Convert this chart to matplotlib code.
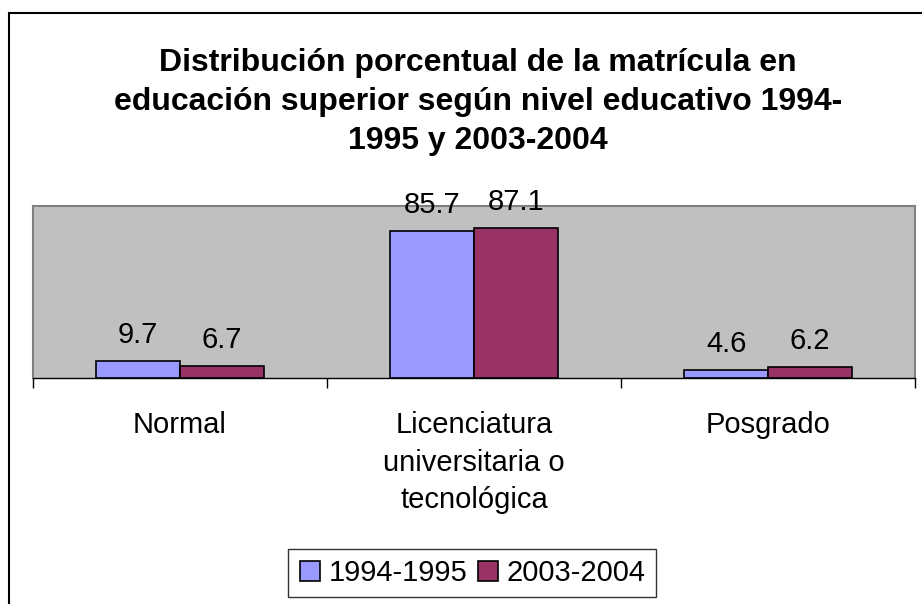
import matplotlib.pyplot as plt
import matplotlib.patches as mpatches
from matplotlib.lines import Line2D
import numpy as np

plt.rcParams['font.family'] = ['Liberation Sans', 'DejaVu Sans']

categorias = ["Normal", "Licenciatura\nuniversitaria o\ntecnológica", "Posgrado"]
series = ["1994-1995", "2003-2004"]
valores_1994 = [9.7, 85.7, 4.6]
valores_2003 = [6.7, 87.1, 6.2]
colores = ["#9999FF", "#993366"]

W, H = 922, 604
fig = plt.figure(figsize=(W / 100, H / 100), dpi=100)

# chart area border (left and top edges visible)
fig.patches.append(mpatches.Rectangle((9 / W, -0.1), 1.2, 1 - 13 / H + 0.1,
                                      transform=fig.transFigure, fill=False,
                                      edgecolor="black", lw=1.5))

ax = fig.add_axes([33 / W, 1 - 378 / H, (915 - 33) / W, (378 - 206) / H])
ax.set_facecolor("#C0C0C0")

x = np.arange(len(categorias))
ancho = 0.285
for i, (vals, col) in enumerate(zip([valores_1994, valores_2003], colores)):
    pos = x + (i - 0.5) * ancho
    ax.bar(pos, vals, width=ancho, color=col, edgecolor="black", lw=1.2,
           label=series[i], zorder=3)
    for p, v in zip(pos, vals):
        ax.annotate(str(v), (p, v), xytext=(0, 13), textcoords="offset points",
                    ha="center", va="baseline", fontsize=21)

ax.set_xlim(-0.5, 2.5)
ax.set_ylim(0, 100)
ax.set_yticks([])
ax.set_xticks([-0.5, 0.5, 1.5, 2.5])
ax.set_xticklabels([])
ax.tick_params(axis="x", which="major", length=7, width=1, color="black")
ax.set_xticks(x, minor=True)
ax.set_xticklabels(categorias, minor=True, fontsize=21, linespacing=1.42)
ax.tick_params(axis="x", which="minor", length=0, pad=24)
for lab in ax.get_xticklabels(minor=True):
    lab.set_verticalalignment("top")

for s in ["left", "top", "right"]:
    ax.spines[s].set_color("#808080")
    ax.spines[s].set_linewidth(1.5)
ax.spines["bottom"].set_color("black")
ax.spines["bottom"].set_linewidth(1)

fig.text(478 / W, 1 - 102 / H,
         "Distribución porcentual de la matrícula en\n"
         "educación superior según nivel educativo 1994-\n"
         "1995 y 2003-2004",
         ha="center", va="center", fontsize=23, fontweight="bold",
         linespacing=1.37)

handles = [Line2D([], [], marker="s", ls="", markersize=15, markerfacecolor=c,
                  markeredgecolor="black", markeredgewidth=1.2) for c in colores]
leg = fig.legend(handles, series, loc="center", bbox_to_anchor=(472 / W, 1 - 573 / H),
                 ncol=2, fontsize=21, frameon=True, fancybox=False,
                 handlelength=0.8, handletextpad=0.25, columnspacing=0.3,
                 borderpad=0.35, borderaxespad=0, edgecolor="black")
leg.get_frame().set_linewidth(1)

fig.savefig("out.png", dpi=100)
